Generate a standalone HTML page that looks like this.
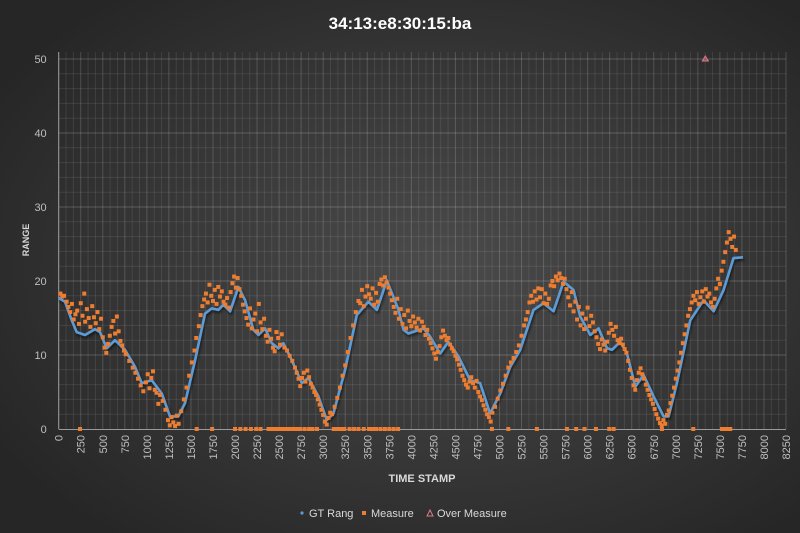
<!DOCTYPE html>
<html><head><meta charset="utf-8"><style>
html,body{margin:0;padding:0;width:800px;height:533px;overflow:hidden;background:#2b2b2b}
svg{display:block}
text{font-family:"Liberation Sans",sans-serif}
</style></head><body>
<svg id="chart" width="800" height="533">
<defs>
<radialGradient id="bg" cx="55%" cy="50%" r="65%">
<stop offset="0" stop-color="#4b4b4b"/><stop offset="1" stop-color="#262626"/>
</radialGradient>
<filter id="sh" x="-5%" y="-5%" width="110%" height="110%"><feDropShadow dx="1" dy="2" stdDeviation="1.2" flood-color="#000" flood-opacity="0.6"/></filter>
</defs>
<rect width="800" height="533" fill="url(#bg)"/>
<text x="400" y="29" text-anchor="middle" fill="#fff" font-size="17" font-weight="bold">34:13:e8:30:15:ba</text>
<g id="grid"></g>
<g id="axes"></g>
<g id="gt" filter="url(#sh)"></g>
<g id="meas"></g>
<g id="over"></g>
<text x="0" y="0" transform="translate(29,240) rotate(-90)" text-anchor="middle" fill="#d9d9d9" font-size="9" font-weight="bold">RANGE</text>
<text x="422" y="482" text-anchor="middle" fill="#d9d9d9" font-size="11" font-weight="bold">TIME STAMP</text>
<g font-size="11" fill="#d9d9d9">
<g><circle cx="302" cy="513" r="1.6" fill="#5b9bd5"/><text x="309" y="517" fill="#d9d9d9">GT Rang</text></g>
<g><rect x="362" y="511" width="4" height="4" fill="#ed7d31"/><text x="371" y="517" fill="#d9d9d9">Measure</text></g>
<g><polygon points="430,510 433,516 427,516" fill="none" stroke="#e07a8a" stroke-width="1"/><text x="437" y="517" fill="#d9d9d9">Over Measure</text></g>
</g>
</svg>
<script>
const xTicks=[0,250,500,750,1000,1250,1500,1750,2000,2250,2500,2750,3000,3250,3500,3750,4000,4250,4500,4750,5000,5250,5500,5750,6000,6250,6500,6750,7000,7250,7500,7750,8000,8250];
const yTicks=[0,10,20,30,40,50];
const gtT=[0,71,148,204,298,412,469,545,639,752,866,942,1055,1169,1263,1357,1433,1547,1660,1736,1811,1868,1944,2038,2114,2208,2265,2341,2417,2492,2549,2644,2758,2832,2946,3041,3116,3249,3382,3513,3609,3722,3854,3911,3967,4138,4213,4327,4421,4535,4667,4780,4894,5008,5121,5235,5386,5499,5613,5727,5840,5916,6030,6124,6219,6276,6370,6446,6540,6635,6748,6862,6918,7013,7164,7315,7429,7542,7655,7762];
const gtR=[17.7,17.2,14.7,13.1,12.7,13.5,13.1,10.9,12.0,10.7,8.4,6.2,6.6,4.8,1.7,1.7,3.5,9.3,15.6,16.3,16.1,16.8,15.9,19.2,17.4,13.4,12.7,13.6,11.6,10.9,11.6,9.3,6.2,6.9,4.4,1.2,2.1,8.0,15.4,17.2,16.1,20.1,16.1,13.4,12.9,13.6,12.5,10.2,11.8,9.8,6.6,6.2,2.1,4.8,8.4,10.7,16.1,17.0,15.9,19.9,18.8,15.2,12.7,13.6,10.9,10.7,11.8,10.2,5.7,7.3,4.4,1.7,1.7,6.2,14.7,17.4,15.9,18.8,23.1,23.2];
const measT=[20,40,60,90,110,130,150,170,190,210,230,250,270,290,300,320,340,360,380,400,420,440,460,480,500,520,540,560,580,600,620,640,660,680,700,720,740,760,800,840,870,900,930,960,990,1010,1030,1050,1070,1090,1110,1130,1150,1180,1210,1240,1260,1280,1300,1320,1340,1360,1390,1420,1450,1480,1510,1540,1560,1590,1610,1630,1650,1670,1690,1710,1730,1750,1770,1790,1810,1830,1850,1870,1890,1910,1930,1950,1970,1990,2010,2030,2050,2070,2090,2110,2130,2150,2170,2190,2210,2230,2250,2270,2290,2310,2330,2350,2370,2390,2410,2430,2450,2470,2490,2510,2530,
2560,2590,2620,2650,2680,2700,2720,2740,2760,2780,2800,2820,2840,2860,2880,2900,2920,2940,2960,2980,3000,3020,3040,3060,3080,3100,
3130,3160,3190,3220,3250,3280,3310,3340,3370,3400,
3420,3440,3460,3480,3500,3520,3540,3560,3580,3600,3620,3640,3660,3680,3700,3720,3740,3760,3780,3800,3820,3840,3860,3880,3900,3920,3940,3960,3980,4000,4020,4040,4060,4080,4100,4120,4140,4160,4180,4200,4220,4240,4260,4280,4300,4320,4340,4360,
4380,4400,4420,4440,4460,4480,4500,4520,4540,4560,4580,4600,4620,4640,4660,4680,4700,4720,4740,4760,4780,4800,4820,4840,4860,4880,4900,4920,4950,4980,
5010,5040,5070,5100,5130,5160,5190,5220,5250,5280,5300,5320,
5340,5360,5380,5400,5420,5440,5460,5480,5500,5520,5540,5560,5580,5600,5620,5640,5660,5680,5700,5720,5740,5760,5780,5800,5820,5840,5860,5880,5900,5920,5940,5960,5980,6000,6020,6040,6060,6080,6100,6120,6140,6160,6180,6200,6220,6240,6260,6280,6300,6320,6340,
6360,6380,6400,6420,6440,6460,6480,6500,6520,6540,6560,6580,6600,6620,6640,6660,6680,6700,6720,6740,6760,6780,6800,6820,6840,6860,6880,6900,6920,6940,6960,6980,7000,7020,7040,7060,7080,7100,7120,7140,
7160,7180,7200,7220,7240,7260,7280,7300,7320,7340,7360,7380,7400,7420,7440,7460,7480,7500,7520,7540,7560,7580,7600,7620,7640,7660,7680];
const measR=[18.3,17.9,18.0,17.2,16.5,15.8,16.9,14.8,15.5,16.0,14.2,17.0,15.3,18.3,14.5,16.2,15.0,13.8,16.6,15.1,14.3,15.8,13.5,14.9,12.4,11.0,10.3,11.5,12.6,13.8,14.6,12.9,15.2,13.2,11.9,11.3,10.6,10.1,9.2,8.3,7.6,6.8,5.9,5.1,6.3,7.4,5.5,6.9,7.8,5.3,4.9,3.4,4.6,3.8,2.6,1.2,0.5,1.6,0.9,0.4,1.8,0.7,2.4,4.0,5.6,7.2,9.0,10.6,12.3,13.9,15.4,16.6,17.5,18.3,17.1,19.5,18.0,17.3,18.8,16.9,19.2,17.9,18.6,17.2,16.8,17.7,16.4,18.5,19.7,20.6,19.1,20.4,18.9,18.0,16.8,15.9,15.0,14.1,16.3,13.6,14.8,15.6,13.2,16.9,14.4,13.5,14.9,12.6,11.8,13.4,12.2,11.0,10.5,13.1,12.3,11.4,12.8,
11.0,10.6,9.9,9.2,8.3,7.6,6.8,5.8,6.9,7.6,6.4,7.9,7.0,6.1,5.6,5.0,4.6,4.0,3.3,2.6,1.9,1.0,0.6,1.5,2.2,2.0,
3.0,4.2,5.6,7.2,8.6,10.4,12.3,14.0,15.8,17.3,
17.0,18.8,16.6,17.9,19.3,18.2,17.6,19.0,16.8,18.4,17.2,19.6,20.2,19.4,20.5,19.8,19.1,18.3,17.4,16.5,15.7,17.6,14.9,16.2,14.2,15.4,13.6,16.0,14.6,13.9,15.2,14.4,13.7,14.9,13.3,14.5,13.8,12.7,13.4,12.2,11.6,10.9,10.2,9.5,10.4,11.2,12.4,13.3,
12.6,12.0,12.3,11.4,10.9,10.5,9.9,9.4,8.7,8.0,7.2,6.6,6.0,5.6,6.4,7.0,6.2,5.6,6.5,5.0,4.4,3.9,3.2,2.6,2.0,1.6,1.0,2.2,3.0,4.1,
5.2,6.1,7.2,8.3,9.0,9.6,10.4,11.3,12.6,14.0,14.8,15.8,
17.1,18.0,17.2,18.6,17.5,19.0,17.8,18.9,17.0,18.3,16.9,17.6,19.4,20.0,19.3,20.6,20.1,21.0,20.4,19.6,20.3,18.9,17.8,16.7,18.5,15.9,17.2,14.8,16.5,14.0,15.6,13.5,14.9,16.4,13.9,15.3,14.4,13.2,12.4,11.5,10.8,12.1,11.4,10.6,11.8,13.0,14.2,13.4,12.6,13.8,12.0,
11.6,12.2,11.4,10.8,10.3,9.2,8.0,6.9,5.9,5.3,6.6,7.6,8.2,7.4,6.8,6.0,5.3,4.6,4.0,3.4,2.7,2.0,1.4,0.8,0.5,1.2,0.7,1.9,2.5,3.5,4.5,5.6,6.8,7.9,9.0,10.3,11.6,12.8,14.0,15.3,
16.2,17.1,18.0,17.4,18.5,16.9,17.8,18.6,17.2,18.9,17.9,18.3,17.1,16.5,17.6,19.0,20.3,19.6,21.4,22.6,23.9,25.2,26.6,25.7,24.6,26.0,24.2];
const zeroT=[242,1566,1740,2000,2060,2120,2180,2240,2290,2380,2420,2460,2500,2540,2580,2620,2660,2700,2740,2790,2840,2880,2930,3120,3160,3200,3240,3300,3350,3400,3460,3520,3560,3600,3650,3700,3750,3800,3850,4914,5100,5424,5765,5870,5964,6094,6245,6295,6843,7198,7524,7560,7590,7618];
const overT=[7335];
const overR=[50];

const NS='http://www.w3.org/2000/svg';
const L=58.7,R=786,T=52,B=429,XMAX=8250,YMAX=50;
const X=v=>L+v/XMAX*(R-L);
const Y=v=>B-v*7.4;
function mk(tag,attrs,parent){const e=document.createElementNS(NS,tag);for(const k in attrs)e.setAttribute(k,attrs[k]);parent.appendChild(e);return e;}
const grid=document.getElementById('grid'),axes=document.getElementById('axes');
for(let i=0;i<xTicks.length-1;i++){
  for(let k=0;k<3;k++){
    const v=xTicks[i]+k*(xTicks[i+1]-xTicks[i])/3;
    const ln=mk('line',{x1:X(v),x2:X(v),y1:T,y2:B,stroke:k?'rgba(255,255,255,0.09)':'rgba(255,255,255,0.17)','stroke-width':1},grid);
    
    
  }
}
for(let v=2;v<=YMAX;v+=2){
  const ln=mk('line',{x1:L,x2:R,y1:Y(v),y2:Y(v),stroke:v%10?'rgba(255,255,255,0.09)':'rgba(255,255,255,0.2)','stroke-width':1},grid);
  
  
}
const ln2=mk('line',{x1:R,x2:R,y1:T,y2:B,stroke:'rgba(255,255,255,0.17)'},grid);


const xa=mk('line',{x1:L,x2:R,y1:B+0.5,y2:B+0.5,stroke:'#9a9a9a','stroke-width':1},axes);


const ya=mk('line',{x1:L,x2:L,y1:T,y2:B,stroke:'#9a9a9a','stroke-width':1},axes);


yTicks.forEach(v=>{
  const t=mk('text',{x:L-12,y:Y(v)+4,'text-anchor':'end',fill:'#bfbfbf','font-size':11},axes);
  t.textContent=v;
  
  
});
xTicks.forEach(v=>{
  const t=mk('text',{x:0,y:0,transform:`translate(${X(v)+4},${B+6}) rotate(-90)`,'text-anchor':'end',fill:'#bfbfbf','font-size':11},axes);
  t.textContent=v;
  
  
});
const gt=document.getElementById('gt');
const p=mk('polyline',{points:gtT.map((t,i)=>X(t).toFixed(1)+','+Y(gtR[i]).toFixed(1)).join(' '),fill:'none',stroke:'#5b9bd5','stroke-width':2.6,'stroke-linejoin':'round'},gt);


const meas=document.getElementById('meas');
measT.forEach((t,i)=>{
  const r=mk('rect',{x:X(t)-2,y:Y(measR[i])-2,width:4,height:4,fill:'#ed7d31'},meas);
  
  
});
zeroT.forEach(t=>{
  const r=mk('rect',{x:X(t)-2,y:Y(0)-2,width:4,height:4,fill:'#ed7d31'},meas);
  
  
});
const over=document.getElementById('over');
overT.forEach((t,i)=>{
  const x=X(t),y=Y(overR[i]);
  const tri=mk('polygon',{points:`${x},${y-3} ${x+3},${y+2} ${x-3},${y+2}`,fill:'#8a5a66',stroke:'#e07a8a','stroke-width':1},over);
  
  
});
</script>
</body></html>
